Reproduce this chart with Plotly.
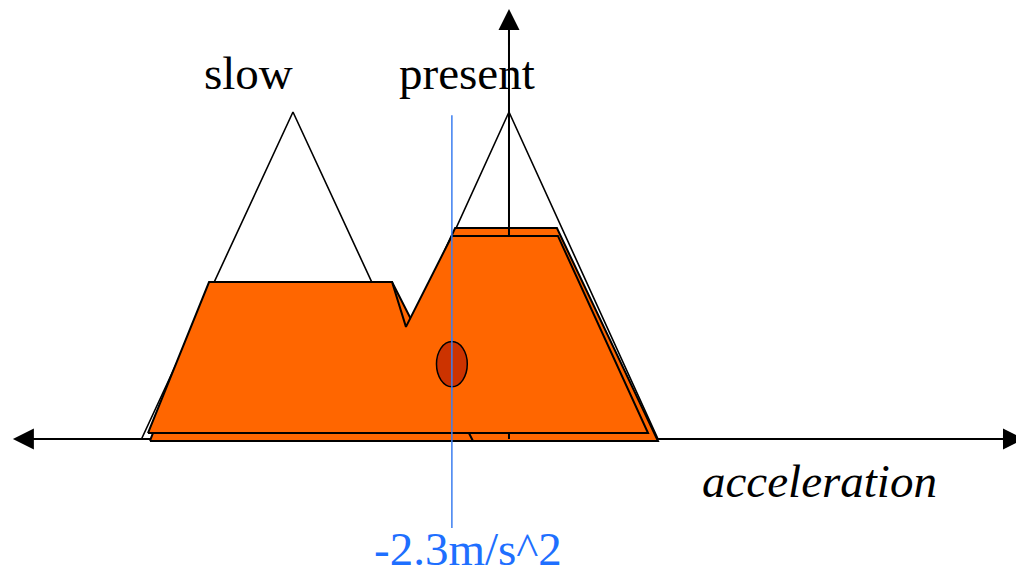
import plotly.graph_objects as go

# ---- membership functions (acceleration in m/s^2, membership 0..1) ----
slow_x = [-14.8, -8.7, -2.6]
slow_mu = [0, 1, 0]
present_x = [-6.0, 0.0, 6.0]
present_mu = [0, 1, 0]

# clipped (fired) output regions
present_clip_x = [-6.08, -2.17, 1.93, 6.0]
present_clip_mu = [-0.006, 0.645, 0.645, -0.006]
slow_clip_x = [-14.46, -12.0, -4.71, -1.45]
slow_clip_mu = [-0.006, 0.48, 0.48, -0.006]
union_x = [-14.54, -12.08, -4.71, -4.15, -2.30, 1.97, 5.60]
union_mu = [0.018, 0.48, 0.48, 0.343, 0.621, 0.621, 0.018]

# defuzzified (crisp) value
crisp_x = [-2.3]
crisp_mu = [0.229]
crisp_label = ["-2.3m/s^2"]
labels = ["slow", "present"]
axis_title = "acceleration"

X_RANGE = [-20.499, 20.419]
Y_RANGE = [-0.4006, 1.3425]
ORANGE = "#FF6600"
SERIF = "Liberation Serif"

fig = go.Figure()

def poly(x, y, fill=None, lw=1.5):
    fig.add_trace(go.Scatter(
        x=x + [x[0]], y=y + [y[0]], mode="lines",
        line=dict(color="black", width=lw),
        fill="toself" if fill else None,
        fillcolor=fill, hoverinfo="skip", showlegend=False))

# triangles (membership outlines)
poly(slow_x, slow_mu, fill="white", lw=1.6)
poly(present_x, present_mu, fill="white", lw=1.6)

# horizontal axis line
fig.add_trace(go.Scatter(x=[-19.6, 20.6], y=[0, 0], mode="lines",
                         line=dict(color="black", width=2),
                         hoverinfo="skip", showlegend=False))

# back clipped regions
poly(present_clip_x, present_clip_mu, fill=ORANGE, lw=2)
poly(slow_clip_x, slow_clip_mu, fill=ORANGE, lw=2)

# vertical axis line
fig.add_trace(go.Scatter(x=[0, 0], y=[0, 1.25], mode="lines",
                         line=dict(color="black", width=2),
                         hoverinfo="skip", showlegend=False))

# front union region
poly(union_x, union_mu, fill=ORANGE, lw=2)

# crisp value line
fig.add_trace(go.Scatter(x=[crisp_x[0], crisp_x[0]], y=[0.99, -0.272], mode="lines",
                         line=dict(color="#3C7EF0", width=1.5),
                         hoverinfo="skip", showlegend=False))

# crisp value ellipse
fig.add_shape(type="circle", xref="x", yref="y",
              x0=crisp_x[0] - 0.62, x1=crisp_x[0] + 0.62,
              y0=crisp_mu[0] - 0.069, y1=crisp_mu[0] + 0.069,
              fillcolor="#CC3300", line=dict(color="black", width=1.5), layer="above")
fig.add_shape(type="line", xref="x", yref="y",
              x0=crisp_x[0], x1=crisp_x[0], y0=crisp_mu[0] - 0.08, y1=crisp_mu[0] + 0.08,
              line=dict(color="#3C7EF0", width=1.5), layer="above")

# arrowheads
head = dict(showarrow=True, arrowhead=2, arrowsize=2.1, arrowwidth=2,
            arrowcolor="black", text="", standoff=0,
            xref="x", yref="y", axref="x", ayref="y")
fig.add_annotation(x=-19.98, y=0, ax=-18.5, ay=0, **head)
fig.add_annotation(x=20.74, y=0, ax=19.5, ay=0, **head)
fig.add_annotation(x=0, y=1.315, ax=0, ay=1.2, **head)

# labels
fig.add_annotation(x=-10.49, y=1.12, text=labels[0], showarrow=False,
                   font=dict(family=SERIF, size=47, color="black"))
fig.add_annotation(x=-1.69, y=1.12, text=labels[1], showarrow=False,
                   font=dict(family=SERIF, size=47, color="black"))
fig.add_annotation(x=12.52, y=-0.128, text="<i>" + axis_title + "</i>", showarrow=False,
                   font=dict(family=SERIF, size=47, color="black"))
fig.add_annotation(x=-1.65, y=-0.335, text=crisp_label[0], showarrow=False,
                   font=dict(family=SERIF, size=47, color="#1E6FFF"))

fig.update_layout(
    width=1016, height=570,
    margin=dict(l=0, r=0, t=0, b=0),
    paper_bgcolor="white", plot_bgcolor="white",
    xaxis=dict(range=X_RANGE, visible=False, fixedrange=True),
    yaxis=dict(range=Y_RANGE, visible=False, fixedrange=True),
    showlegend=False,
)

fig.write_html("out.html",
               config={"displayModeBar": False},
               post_script="document.body.style.margin='0px';"
                           "document.body.style.overflow='hidden';")
